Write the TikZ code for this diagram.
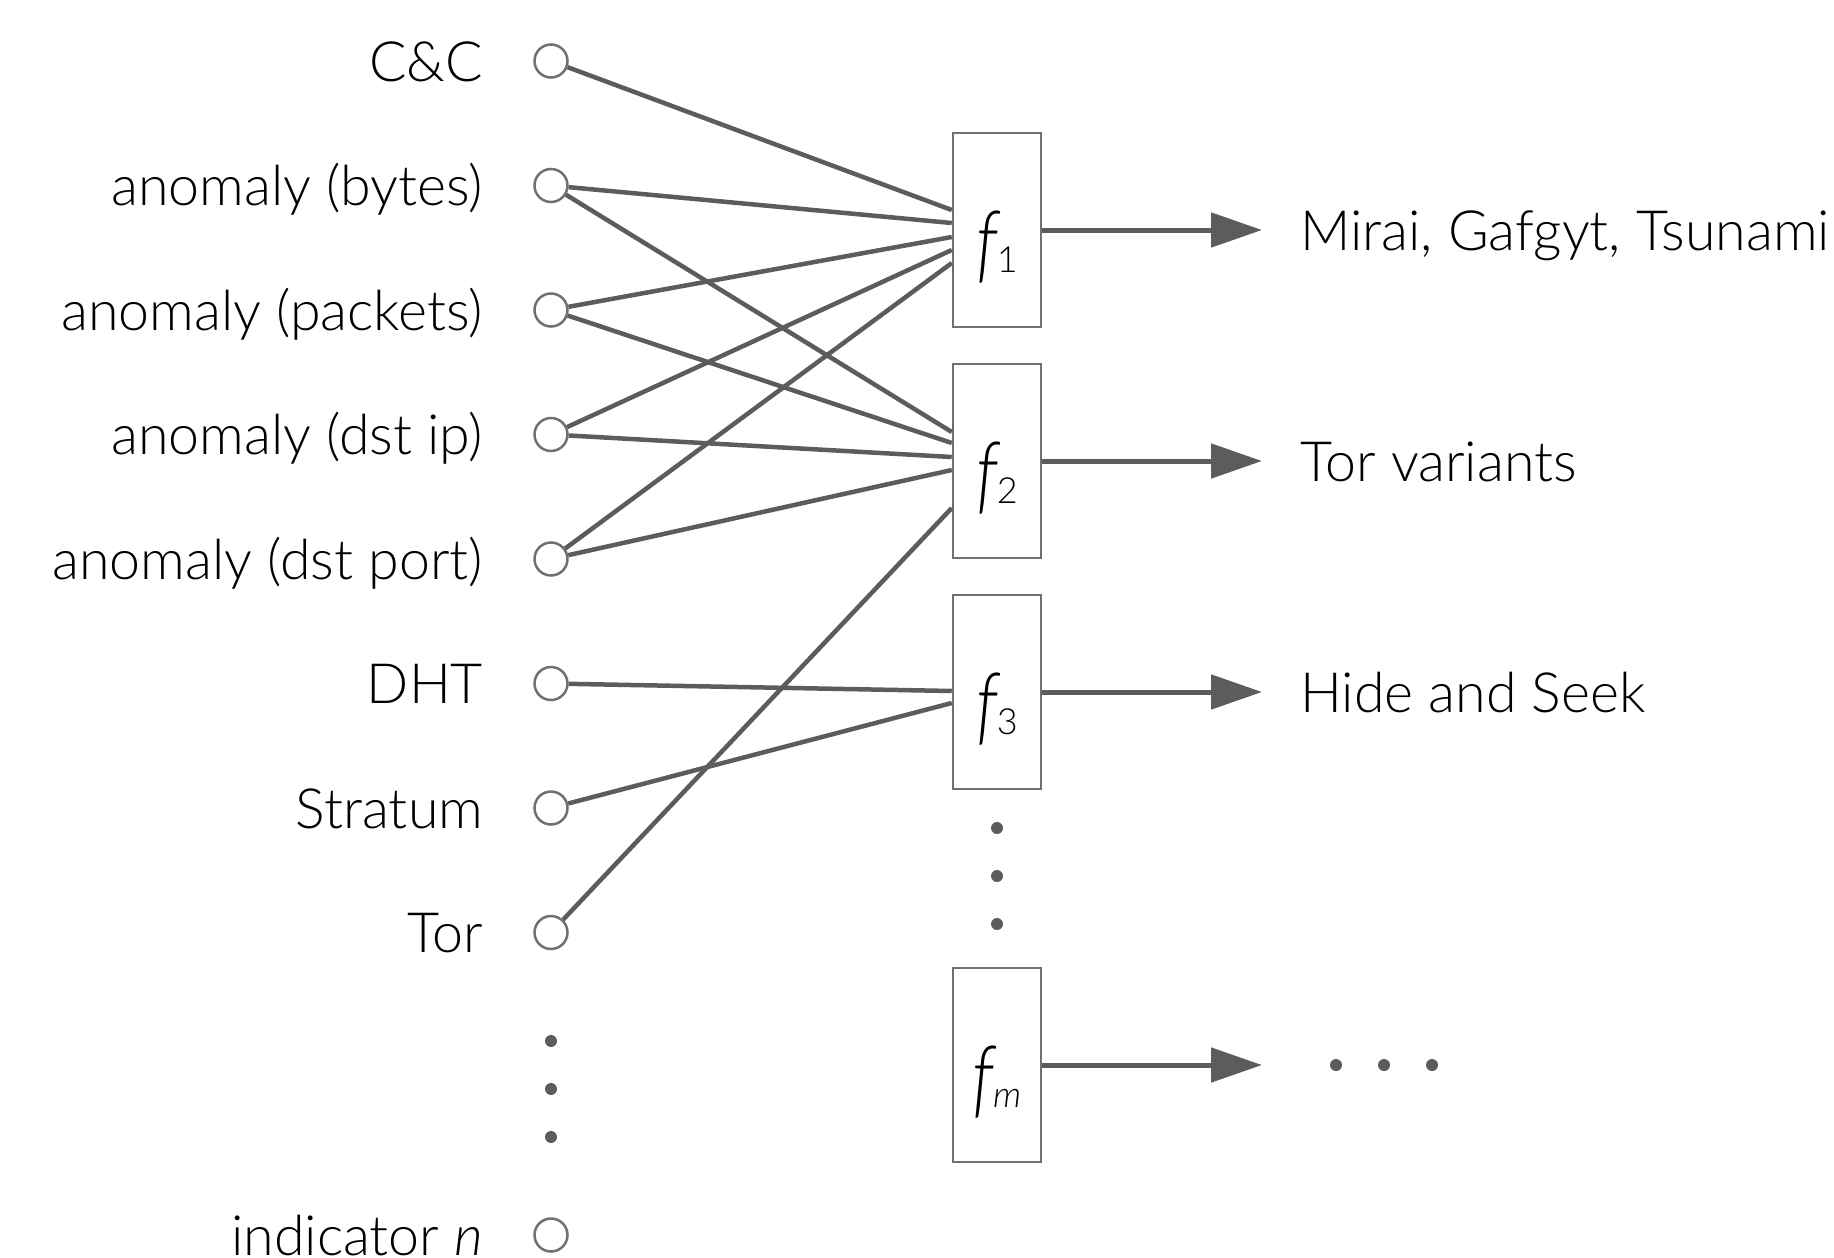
\documentclass[tikz,border=0pt]{standalone}
\usepackage{fontspec}
\setmainfont{Lato}[UprightFont=* Light, ItalicFont=* Light Italic]
\usetikzlibrary{positioning,arrows.meta}
\definecolor{cwire}{RGB}{92,92,92}
\definecolor{cedge}{RGB}{112,112,112}
\newcommand{\fn}[1]{{\itshape\scalebox{1.25}[1.55]{f}}\kern-1pt{\fontsize{36}{36}\selectfont #1}}
\tikzset{
  netfig/.style={x=1pt,y=-1pt,font=\fontsize{55.5}{66}\selectfont},
  port/.style={circle,draw=cedge,line width=2.5pt,fill=white,minimum size=33pt,inner sep=0pt},
  func/.style={draw=cedge,line width=2.5pt,fill=white,minimum width=88pt,minimum height=194pt,
    inner sep=0pt,text height=84pt,text depth=0pt},
  wire/.style={cwire,line width=4.5pt},
  outarrow/.style={cwire,line width=5pt,-{Triangle[length=51pt,width=34pt]}},
  vdot/.style={circle,fill=cwire,minimum size=12pt,inner sep=0pt},
  inlbl/.style={anchor=base east,inner sep=0pt},
  outlbl/.style={anchor=base west,inner sep=0pt}
}

\begin{document}
\begin{tikzpicture}[netfig]
    \useasboundingbox (0,0) rectangle (1834,1258);
    % indicators
    \foreach \nm/\yy/\txt in {cc/61/C\&C, bytes/185.5/anomaly (bytes), packets/310/anomaly (packets),
        dstip/434.5/anomaly (dst ip), dstport/559/anomaly (dst port), dht/683.5/DHT,
        stratum/808/Stratum, tor/932.5/Tor, indn/1235/indicator {\itshape n}}{
      \node[port] (\nm) at (551,\yy) {};
      \node[inlbl] (\nm-lbl) at ([xshift=-50pt,yshift=-20pt]\nm.west) {\txt};
    }
    \foreach \yy in {1041,1089,1137} \node[vdot] at (551,\yy) {};
    % functions
    \node[func] (f1) at (997,230)  {\fn{1}};
    \node[func] (f2) at (997,461)  {\fn{2}};
    \node[func] (f3) at (997,692)  {\fn{3}};
    \node[func] (fm) at (997,1065) {\fn{\itshape m}};
    \foreach \yy in {828,876,924} \node[vdot] at (997,\yy) {};
    % wires into f1, f2, f3
    \foreach \src/\dy in {cc/20, bytes/7, packets/-7, dstip/-20, dstport/-33}
      \draw[wire] (\src) -- ([yshift=\dy pt]f1.west);
    \foreach \src/\dy in {bytes/29, packets/18, dstip/4, dstport/-9, tor/-47}
      \draw[wire] (\src) -- ([yshift=\dy pt]f2.west);
    \foreach \src/\dy in {dht/1, stratum/-11}
      \draw[wire] (\src) -- ([yshift=\dy pt]f3.west);
    % outputs
    \foreach \fx/\txt in {f1/{Mirai, Gafgyt, Tsunami}, f2/Tor variants, f3/Hide and Seek}{
      \coordinate (\fx-tip) at (1262,0 |- \fx.east);
      \draw[outarrow] (\fx.east) -- (\fx-tip);
      \node[outlbl] (\fx-lbl) at ([xshift=38pt,yshift=-20pt]\fx-tip) {\txt};
    }
    \coordinate (fm-tip) at (1262,0 |- fm.east);
    \draw[outarrow] (fm.east) -- (fm-tip);
    \foreach \xx in {1336,1384,1432} \node[vdot] at (\xx,1065) {};
\end{tikzpicture}
\end{document}
